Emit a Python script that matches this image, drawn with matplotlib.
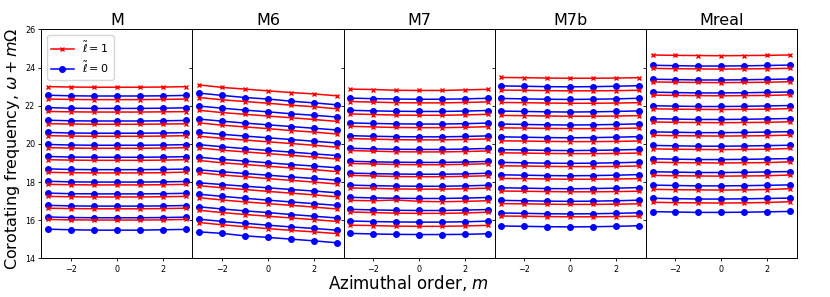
import matplotlib.pyplot as plt

# azimuthal order m
m = [-3, -2, -1, 0, 1, 2, 3]

models = ['M', 'M6', 'M7', 'M7b', 'Mreal']

# corotating frequencies, ltilde = 1 (red) and ltilde = 0 (blue), one row per overtone
M_l1 = [
    [23.00, 22.98, 22.97, 22.97, 22.97, 22.98, 23.00],
    [22.35, 22.33, 22.32, 22.32, 22.32, 22.33, 22.35],
    [21.70, 21.68, 21.67, 21.67, 21.67, 21.68, 21.69],
    [21.06, 21.04, 21.03, 21.03, 21.03, 21.04, 21.05],
    [20.43, 20.41, 20.40, 20.40, 20.40, 20.41, 20.43],
    [19.80, 19.78, 19.77, 19.77, 19.77, 19.78, 19.80],
    [19.17, 19.15, 19.14, 19.14, 19.14, 19.15, 19.17],
    [18.51, 18.49, 18.48, 18.48, 18.48, 18.49, 18.52],
    [17.88, 17.86, 17.85, 17.85, 17.85, 17.86, 17.88],
    [17.25, 17.23, 17.22, 17.22, 17.22, 17.23, 17.25],
    [16.63, 16.61, 16.60, 16.60, 16.60, 16.61, 16.63],
    [16.04, 16.02, 16.01, 16.01, 16.01, 16.02, 16.04],
]
M_l0 = [
    [22.55, 22.52, 22.51, 22.51, 22.51, 22.52, 22.54],
    [21.90, 21.87, 21.86, 21.86, 21.86, 21.87, 21.89],
    [21.24, 21.21, 21.20, 21.20, 21.20, 21.21, 21.23],
    [20.60, 20.57, 20.56, 20.56, 20.56, 20.57, 20.59],
    [19.97, 19.94, 19.93, 19.93, 19.93, 19.94, 19.96],
    [19.34, 19.31, 19.30, 19.30, 19.30, 19.31, 19.33],
    [18.69, 18.66, 18.65, 18.65, 18.65, 18.66, 18.68],
    [18.04, 18.01, 18.00, 18.00, 18.00, 18.01, 18.03],
    [17.42, 17.39, 17.38, 17.38, 17.38, 17.39, 17.41],
    [16.78, 16.75, 16.74, 16.74, 16.74, 16.75, 16.77],
    [16.17, 16.14, 16.13, 16.13, 16.13, 16.14, 16.16],
    [15.53, 15.50, 15.48, 15.48, 15.48, 15.50, 15.52],
]

M6_l1 = [
    [23.09, 22.96, 22.87, 22.78, 22.69, 22.62, 22.52],
    [22.43, 22.31, 22.22, 22.13, 22.03, 21.95, 21.84],
    [21.76, 21.64, 21.55, 21.46, 21.37, 21.28, 21.18],
    [21.10, 20.98, 20.89, 20.80, 20.70, 20.62, 20.52],
    [20.40, 20.29, 20.20, 20.11, 20.02, 19.93, 19.83],
    [19.79, 19.67, 19.58, 19.49, 19.40, 19.31, 19.21],
    [19.13, 19.01, 18.92, 18.83, 18.74, 18.65, 18.55],
    [18.49, 18.37, 18.28, 18.18, 18.09, 18.00, 17.90],
    [17.81, 17.70, 17.61, 17.51, 17.42, 17.33, 17.23],
    [17.18, 17.06, 16.96, 16.87, 16.78, 16.69, 16.59],
    [16.52, 16.40, 16.30, 16.21, 16.12, 16.03, 15.94],
    [15.88, 15.76, 15.66, 15.56, 15.47, 15.39, 15.30],
]
M6_l0 = [
    [22.66, 22.54, 22.43, 22.35, 22.24, 22.15, 22.05],
    [21.98, 21.87, 21.77, 21.68, 21.58, 21.50, 21.41],
    [21.30, 21.19, 21.09, 21.00, 20.91, 20.82, 20.73],
    [20.60, 20.50, 20.41, 20.32, 20.23, 20.14, 20.05],
    [19.96, 19.85, 19.75, 19.66, 19.57, 19.48, 19.39],
    [19.30, 19.19, 19.10, 19.01, 18.92, 18.84, 18.75],
    [18.64, 18.54, 18.45, 18.36, 18.27, 18.19, 18.10],
    [17.96, 17.87, 17.78, 17.70, 17.61, 17.53, 17.44],
    [17.36, 17.25, 17.15, 17.05, 16.96, 16.87, 16.78],
    [16.70, 16.59, 16.49, 16.40, 16.30, 16.21, 16.12],
    [16.05, 15.94, 15.84, 15.74, 15.65, 15.57, 15.48],
    [15.39, 15.31, 15.18, 15.10, 15.01, 14.92, 14.82],
]

M7_l1 = [
    [22.87, 22.85, 22.81, 22.80, 22.80, 22.83, 22.86],
    [22.22, 22.19, 22.16, 22.15, 22.15, 22.17, 22.20],
    [21.57, 21.54, 21.51, 21.50, 21.50, 21.52, 21.55],
    [20.92, 20.89, 20.86, 20.85, 20.85, 20.87, 20.90],
    [20.28, 20.25, 20.22, 20.21, 20.21, 20.23, 20.26],
    [19.65, 19.62, 19.59, 19.58, 19.58, 19.60, 19.63],
    [18.97, 18.95, 18.92, 18.91, 18.91, 18.93, 18.96],
    [18.35, 18.32, 18.29, 18.28, 18.28, 18.30, 18.33],
    [17.69, 17.67, 17.64, 17.63, 17.63, 17.65, 17.68],
    [17.04, 17.02, 17.06, 16.99, 16.97, 16.99, 17.02],
    [16.43, 16.40, 16.37, 16.36, 16.36, 16.38, 16.42],
    [15.74, 15.72, 15.69, 15.68, 15.68, 15.70, 15.73],
]
M7_l0 = [
    [22.40, 22.37, 22.35, 22.34, 22.34, 22.36, 22.39],
    [21.76, 21.73, 21.71, 21.70, 21.70, 21.72, 21.75],
    [21.10, 21.07, 21.05, 21.04, 21.04, 21.06, 21.09],
    [20.43, 20.40, 20.38, 20.37, 20.37, 20.39, 20.42],
    [19.77, 19.74, 19.72, 19.71, 19.71, 19.73, 19.76],
    [19.09, 19.06, 19.04, 19.03, 19.03, 19.05, 19.08],
    [18.47, 18.44, 18.42, 18.41, 18.41, 18.43, 18.46],
    [17.84, 17.81, 17.79, 17.78, 17.78, 17.80, 17.83],
    [17.20, 17.17, 17.15, 17.14, 17.14, 17.16, 17.19],
    [16.57, 16.54, 16.52, 16.51, 16.51, 16.53, 16.56],
    [15.96, 15.93, 15.91, 15.90, 15.90, 15.92, 15.95],
    [15.31, 15.28, 15.26, 15.25, 15.25, 15.26, 15.29],
]

M7b_l1 = [
    [23.48, 23.47, 23.45, 23.44, 23.44, 23.45, 23.47],
    [22.82, 22.81, 22.79, 22.78, 22.78, 22.79, 22.81],
    [22.17, 22.16, 22.14, 22.13, 22.13, 22.14, 22.16],
    [21.49, 21.48, 21.46, 21.45, 21.45, 21.46, 21.48],
    [20.84, 20.83, 20.81, 20.80, 20.80, 20.81, 20.83],
    [20.16, 20.15, 20.13, 20.12, 20.12, 20.13, 20.15],
    [19.53, 19.52, 19.50, 19.49, 19.49, 19.50, 19.52],
    [18.85, 18.84, 18.82, 18.81, 18.81, 18.82, 18.84],
    [18.19, 18.18, 18.16, 18.15, 18.15, 18.16, 18.18],
    [17.53, 17.52, 17.50, 17.49, 17.49, 17.50, 17.52],
    [16.87, 16.86, 16.84, 16.83, 16.83, 16.84, 16.86],
    [16.22, 16.21, 16.19, 16.18, 16.18, 16.19, 16.21],
]
M7b_l0 = [
    [23.04, 23.02, 23.00, 22.99, 23.00, 23.02, 23.05],
    [22.38, 22.36, 22.34, 22.33, 22.34, 22.36, 22.39],
    [21.72, 21.70, 21.68, 21.67, 21.68, 21.70, 21.73],
    [21.04, 21.02, 21.00, 20.99, 21.00, 21.02, 21.05],
    [20.37, 20.35, 20.33, 20.32, 20.33, 20.35, 20.38],
    [19.70, 19.68, 19.66, 19.65, 19.66, 19.68, 19.71],
    [19.03, 19.01, 18.99, 18.98, 18.99, 19.01, 19.04],
    [18.38, 18.36, 18.34, 18.33, 18.34, 18.36, 18.39],
    [17.70, 17.68, 17.66, 17.65, 17.66, 17.68, 17.71],
    [17.04, 17.02, 17.00, 16.99, 17.00, 17.02, 17.05],
    [16.38, 16.36, 16.34, 16.33, 16.34, 16.36, 16.39],
    [15.70, 15.68, 15.66, 15.65, 15.66, 15.68, 15.71],
]

Mreal_l1 = [
    [24.66, 24.64, 24.63, 24.62, 24.63, 24.64, 24.66],
    [23.96, 23.94, 23.93, 23.92, 23.93, 23.94, 23.96],
    [23.25, 23.23, 23.22, 23.21, 23.22, 23.23, 23.26],
    [22.56, 22.54, 22.53, 22.52, 22.53, 22.54, 22.57],
    [21.84, 21.82, 21.81, 21.80, 21.81, 21.82, 21.85],
    [21.15, 21.13, 21.12, 21.11, 21.12, 21.13, 21.16],
    [20.45, 20.43, 20.42, 20.41, 20.42, 20.43, 20.46],
    [19.74, 19.72, 19.71, 19.70, 19.71, 19.72, 19.76],
    [19.04, 19.02, 19.01, 19.00, 19.01, 19.02, 19.06],
    [18.35, 18.33, 18.32, 18.31, 18.32, 18.33, 18.37],
    [17.62, 17.60, 17.59, 17.58, 17.59, 17.61, 17.65],
    [16.94, 16.92, 16.91, 16.90, 16.91, 16.93, 16.97],
]
Mreal_l0 = [
    [24.12, 24.10, 24.08, 24.08, 24.09, 24.11, 24.13],
    [23.39, 23.37, 23.35, 23.35, 23.36, 23.38, 23.40],
    [22.71, 22.69, 22.67, 22.67, 22.68, 22.70, 22.72],
    [22.00, 21.98, 21.96, 21.96, 21.97, 21.99, 22.01],
    [21.32, 21.30, 21.28, 21.28, 21.29, 21.31, 21.33],
    [20.63, 20.61, 20.59, 20.59, 20.60, 20.62, 20.64],
    [19.92, 19.90, 19.88, 19.88, 19.89, 19.91, 19.93],
    [19.22, 19.20, 19.18, 19.18, 19.19, 19.21, 19.23],
    [18.54, 18.52, 18.50, 18.50, 18.51, 18.53, 18.55],
    [17.84, 17.82, 17.80, 17.80, 17.81, 17.83, 17.85],
    [17.15, 17.13, 17.11, 17.11, 17.12, 17.14, 17.16],
    [16.45, 16.43, 16.41, 16.41, 16.42, 16.44, 16.46],
]

all_l1 = [M_l1, M6_l1, M7_l1, M7b_l1, Mreal_l1]
all_l0 = [M_l0, M6_l0, M7_l0, M7b_l0, Mreal_l0]

fig, axes = plt.subplots(1, 5, sharey=True, figsize=(8.3, 2.97), dpi=100)
fig.subplots_adjust(left=0.0498, right=0.96, bottom=0.13, top=0.901, wspace=0)

for ax, name, l1, l0 in zip(axes, models, all_l1, all_l0):
    for k in range(len(l1)):
        ax.plot(m, l1[k], 'r-x', lw=1.1, ms=3.5, mew=1.0,
                label=r'$\tilde{\ell}=1$' if k == 0 else None)
        ax.plot(m, l0[k], 'b-o', lw=1.1, ms=4,
                label=r'$\tilde{\ell}=0$' if k == 0 else None)
    ax.set_title(name, fontsize=11.5, pad=3.5)
    ax.set_xticks([-2, 0, 2])
    ax.tick_params(labelsize=5.8, length=2.5, width=0.6, pad=2)
    for sp in ax.spines.values():
        sp.set_linewidth(0.7)

axes[0].set_ylim(14, 26)
axes[0].set_yticks([14, 16, 18, 20, 22, 24, 26])
axes[0].set_ylabel(r'Corotating frequency, $\omega + m\Omega$', fontsize=11.5)
axes[0].yaxis.set_label_coords(-0.13, 0.48)
axes[0].legend(loc='upper left', fontsize=8)

fig.text(408 / 830, 0.027, r'Azimuthal order, $m$', fontsize=12, ha='center', va='baseline')

fig.savefig('out.png', dpi=100)
